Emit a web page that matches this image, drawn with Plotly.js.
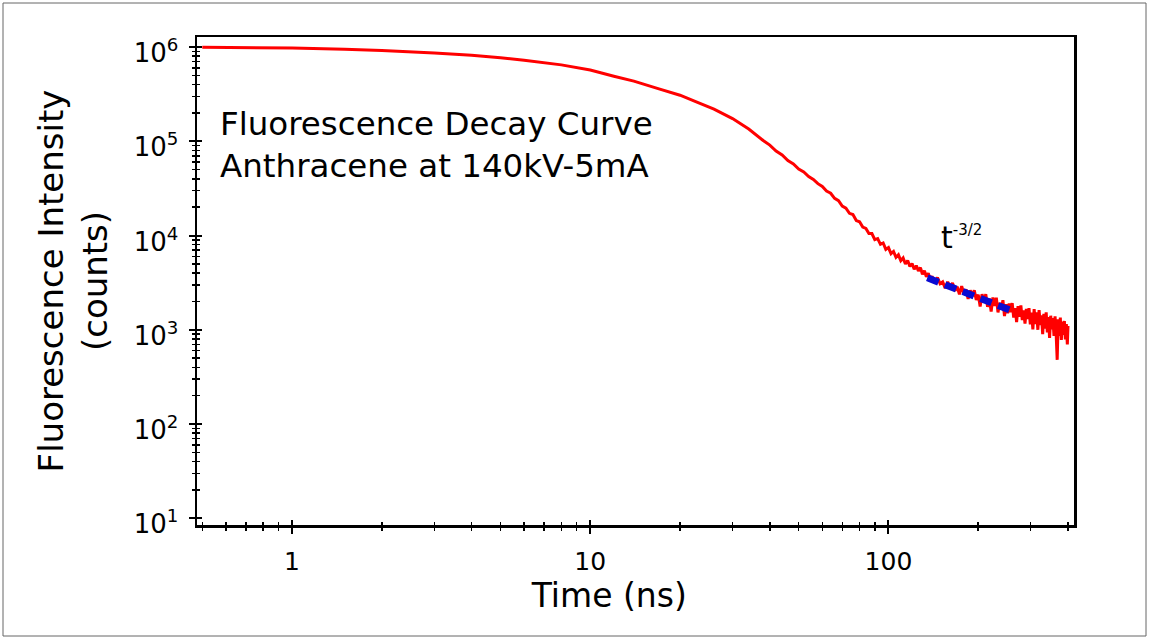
<!DOCTYPE html>
<html>
<head>
<meta charset="utf-8">
<script src="https://cdn.plot.ly/plotly-3.0.1.min.js"></script>
<style>
  html, body { margin: 0; padding: 0; background: #ffffff; }
  #chart { width: 1149px; height: 639px; }
</style>
</head>
<body>
<div id="chart"></div>
<script>
// ---- Data (time in ns, intensity in counts) ----
const earlyTime = [0.5, 0.7, 1, 1.5, 2, 3, 4, 5, 6, 8, 10, 12, 14, 17, 20, 23, 26, 30, 34, 38, 40, 42, 44, 46, 48, 50, 52, 54, 56, 58];
const earlyCounts = [991000, 984000, 975000, 946000, 918000, 861000, 817000, 767000, 724000, 646000, 569000, 490000, 434000, 359000, 308000, 257000, 219000, 174000, 135000, 102000, 91000, 78800, 71500, 62500, 57500, 50800, 47200, 42300, 39300, 35500];

const midTime = [60, 62, 64, 66, 68, 70, 72, 74, 76, 78, 80, 82, 84, 86, 88, 90, 92, 94, 96, 98, 100, 102, 104, 106, 108, 110, 112, 114, 116, 118, 120, 122, 124, 126, 128, 130, 132, 134, 136, 138];
const midCounts = [33100, 29600, 28100, 24800, 23400, 20500, 19500, 17200, 16700, 14400, 14000, 12300, 11900, 10500, 10500, 9060, 9270, 8070, 8340, 7130, 7450, 6420, 6780, 5860, 6240, 5410, 5780, 4990, 5440, 4700, 5030, 4380, 4790, 4200, 4570, 3880, 4230, 3660, 3990, 3450];

const tailTime = [140, 143, 146, 149, 152, 155, 158, 161, 164, 167, 170, 173, 176, 179, 182, 185, 188, 191, 194, 197, 200, 203, 206, 209, 212, 215, 218, 221, 224, 227, 230, 233, 236, 239, 242, 245, 248, 251, 254, 257, 260, 263, 266, 269, 272, 275, 278, 281, 284, 287, 290, 293, 296, 299, 302, 305, 308, 311, 314, 317, 320, 323, 326, 329, 332, 335, 338, 341, 344, 347, 350, 353, 356, 359, 362, 365, 368, 371, 374, 377, 380, 383, 386, 389, 392, 395, 398, 400];
const tailCounts = [3680, 3160, 3590, 3080, 3220, 2770, 3220, 2820, 3140, 2590, 2860, 2380, 2900, 2430, 2680, 2130, 2620, 2270, 2620, 2070, 2360, 1770, 2390, 1970, 2390, 1750, 2150, 1560, 2200, 1790, 2190, 1530, 1930, 1630, 2060, 1400, 1870, 1500, 1900, 1530, 1920, 1350, 1700, 1205, 1780, 1370, 1810, 1270, 1610, 1160, 1670, 1300, 1700, 1140, 1520, 1010, 1660, 1150, 1530, 1000, 1620, 1125, 1420, 900, 1480, 1030, 1530, 940, 1360, 820, 1410, 1010, 1330, 860, 1390, 910, 480, 1290, 860, 1350, 780, 1220, 880, 1240, 790, 1150, 700, 1100];

// t^-3/2 fit segment
const fitTime = [135, 265];
const fitCounts = [3560, 1550];

// Axis ticks
const xTickVals = [1, 10, 100];
const xTickText = ['1', '10', '100'];
const yTickVals = [1e1, 1e2, 1e3, 1e4, 1e5, 1e6];
const yTickText = ['10<sup>1</sup>', '10<sup>2</sup>', '10<sup>3</sup>', '10<sup>4</sup>', '10<sup>5</sup>', '10<sup>6</sup>'];

const annotationLines = ['Fluorescence Decay Curve', 'Anthracene at 140kV-5mA'];

// ---- build ----
const xMinor = [];
[0.1, 1, 10, 100].forEach(function (d) { for (let k = 2; k <= 9; k++) xMinor.push(d * k); });
const yMinor = [];
[10, 100, 1e3, 1e4, 1e5].forEach(function (d) { for (let k = 2; k <= 9; k++) yMinor.push(d * k); });

const FONT = 'DejaVu Sans, Verdana, sans-serif';
const xRange = [Math.log10(0.48), Math.log10(419)];
const yRange = [0.929, 6.106];

const traces = [
  {
    x: earlyTime.concat(midTime, tailTime),
    y: earlyCounts.concat(midCounts, tailCounts),
    type: 'scatter', mode: 'lines',
    line: { color: '#ff0000', width: 3 },
    showlegend: false, hoverinfo: 'skip'
  },
  {
    x: fitTime, y: fitCounts,
    type: 'scatter', mode: 'lines',
    line: { color: '#0a0ad2', width: 7, dash: '12px,7px' },
    showlegend: false, hoverinfo: 'skip'
  },
  { x: [], y: [], xaxis: 'x2', yaxis: 'y2', type: 'scatter', mode: 'lines', showlegend: false }
];

const commonAxis = {
  type: 'log', showgrid: false, zeroline: false,
  ticks: 'outside', ticklen: 6, tickwidth: 2, tickcolor: '#000',
  tickmode: 'array'
};

const layout = {
  width: 1149, height: 639,
  margin: { l: 197, r: 75, t: 37, b: 114 },
  paper_bgcolor: '#ffffff', plot_bgcolor: '#ffffff',
  font: { family: FONT, color: '#000' },
  xaxis: Object.assign({}, commonAxis, {
    range: xRange,
    tickvals: xTickVals, ticktext: xTickText,
    tickfont: { family: FONT, size: 25, color: '#000' },
    showline: true, linewidth: 2.5, linecolor: '#000', mirror: true,
    ticklabelstandoff: 6,
    minor: { tickmode: 'array', tickvals: xMinor, ticks: 'outside', ticklen: 3, tickwidth: 1.5, tickcolor: '#000', showgrid: false },
    title: { text: 'Time (ns)\u00a0\u00a0\u00a0\u00a0\u00a0\u200b', font: { family: FONT, size: 33, color: '#000' }, standoff: 10 },
    automargin: false
  }),
  yaxis: Object.assign({}, commonAxis, {
    range: yRange,
    tickvals: yTickVals, ticktext: yTickText,
    tickfont: { family: FONT, size: 26, color: '#000' },
    showline: true, linewidth: 2.5, linecolor: '#000', mirror: true,
    ticklabelstandoff: 5,
    ticklabelshift: 6,
    minor: { tickmode: 'array', tickvals: yMinor, ticks: 'outside', ticklen: 3, tickwidth: 1.5, tickcolor: '#000', showgrid: false },
    title: { text: 'Fluorescence Intensity<br>(counts)', font: { family: FONT, size: 34, color: '#000' }, standoff: 16 },
    automargin: false
  }),
  xaxis2: {
    type: 'log', overlaying: 'x', anchor: 'y', side: 'bottom', range: xRange,
    showgrid: false, zeroline: false, showline: false, showticklabels: false,
    tickmode: 'array', tickvals: xTickVals,
    ticks: 'inside', ticklen: 5, tickwidth: 2, tickcolor: '#000',
    minor: { tickmode: 'array', tickvals: xMinor, ticks: 'inside', ticklen: 3, tickwidth: 1.5, tickcolor: '#000', showgrid: false }
  },
  yaxis2: {
    type: 'log', overlaying: 'y', anchor: 'x', side: 'left', range: yRange,
    showgrid: false, zeroline: false, showline: false, showticklabels: false,
    tickmode: 'array', tickvals: yTickVals,
    ticks: 'inside', ticklen: 5, tickwidth: 2, tickcolor: '#000',
    minor: { tickmode: 'array', tickvals: yMinor, ticks: 'inside', ticklen: 3, tickwidth: 1.5, tickcolor: '#000', showgrid: false }
  },
  annotations: [
    {
      xref: 'paper', yref: 'paper', x: 0.024, y: 0.865, xanchor: 'left', yanchor: 'top',
      align: 'left', showarrow: false,
      text: annotationLines.join('<br>'),
      font: { family: FONT, size: 32.5, color: '#000' }
    },
    {
      xref: 'paper', yref: 'paper', x: 0.872, y: 0.59, xanchor: 'center', yanchor: 'middle',
      showarrow: false,
      text: 't<sup><span style="font-size:15px">-3/2</span></sup>',
      font: { family: FONT, size: 30, color: '#000' }
    }
  ],
  shapes: [
    {
      type: 'rect', xref: 'paper', yref: 'paper',
      xsizemode: 'pixel', ysizemode: 'pixel', xanchor: 0, yanchor: 0,
      x0: -194, x1: 949, y0: -111, y1: 522,
      line: { color: '#666', width: 1 }, fillcolor: 'rgba(0,0,0,0)'
    }
  ]
};

Plotly.newPlot('chart', traces, layout, { staticPlot: true, displayModeBar: false });
</script>
</body>
</html>
